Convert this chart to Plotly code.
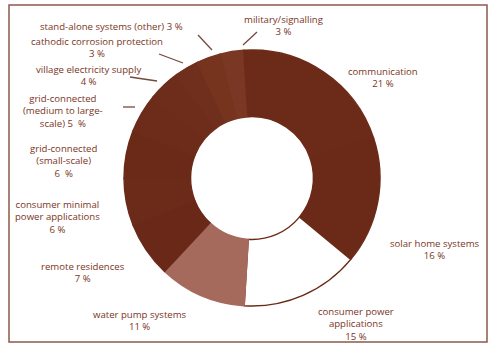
import plotly.graph_objects as go

# ---- data ----
categories = [
    "military/signalling", "communication", "solar home systems",
    "consumer power applications", "water pump systems", "remote residences",
    "consumer minimal power applications", "grid-connected (small-scale)",
    "grid-connected (medium to large-scale)", "village electricity supply",
    "cathodic corrosion protection", "stand-alone systems (other)",
]
shares = [3, 21, 16, 15, 11, 7, 6, 6, 5, 4, 3, 3]
label_texts = [
    "military/signalling<br>3 %",
    "communication<br>21 %",
    "solar home systems<br>16 %",
    "consumer power<br>applications<br>15 %",
    "water pump systems<br>11 %",
    "remote residences<br>7 %",
    "consumer minimal<br>power applications<br>6 %",
    "grid-connected<br>(small-scale)<br>6  %",
    "grid-connected<br>(medium to large-<br>scale) 5  %",
    "village electricity supply<br>4 %",
    "cathodic corrosion protection<br>3 %",
    "stand-alone systems (other) 3 %",
]

# ---- styling ----
W, H = 489, 345
CX, CY, R = 252, 178, 128
ROT = -14.5
colors = ["#7a3824", "#6c2b18", "#6b2a18", "#ffffff", "#a66a5c", "#6a2918",
          "#6c2b19", "#6b2a18", "#6d2c1a", "#6e2d1a", "#702f1c", "#76341f"]
line_cols = [c if c != "#ffffff" else "#6a2a17" for c in colors]
text_col = "#7b3526"
FS = 9.6
# label top-centre positions in pixels
label_pos = [(284, 11), (383, 63), (435, 235), (356, 303), (140, 306), (83, 258),
             (57, 196), (63, 140), (63, 90), (88, 61), (97, 33), (111, 18)]
# leader lines (pixels): label end -> pie end
leaders = [((257, 32), (243, 45)), ((198, 35), (212, 50)), ((159, 54), (183, 63)),
           ((130, 77), (157, 81)), ((123, 107), (135, 107))]

fig = go.Figure(go.Pie(
    labels=categories, values=shares, sort=False, direction="clockwise",
    rotation=ROT, hole=0.48,
    marker=dict(colors=colors, line=dict(color=line_cols, width=1.4)),
    textinfo="none", hoverinfo="label+percent", showlegend=False,
    domain=dict(x=[(CX - R) / W, (CX + R) / W], y=[(H - CY - R) / H, (H - CY + R) / H]),
))

def px(x, y):
    return x / W, 1 - y / H

annotations = []
for i, t in enumerate(label_texts):
    x, y = px(*label_pos[i])
    annotations.append(dict(x=x, y=y, xref="paper", yref="paper", text=t, showarrow=False,
                            xanchor="center", yanchor="top", align="center",
                            font=dict(family="Open Sans", size=FS, color=text_col)))

shapes = [dict(type="rect", xref="paper", yref="paper",
               x0=9 / W, x1=487 / W, y0=1 - 342 / H, y1=1 - 5 / H,
               line=dict(color="#8b5a4b", width=1.5))]
for (a, b) in leaders:
    x0, y0 = px(*a)
    x1, y1 = px(*b)
    shapes.append(dict(type="line", xref="paper", yref="paper", x0=x0, y0=y0, x1=x1, y1=y1,
                       line=dict(color="#74493e", width=1.3)))

fig.update_layout(width=W, height=H, margin=dict(l=0, r=0, t=0, b=0),
                  paper_bgcolor="white", plot_bgcolor="white",
                  annotations=annotations, shapes=shapes)
fig.write_html("out.html")
